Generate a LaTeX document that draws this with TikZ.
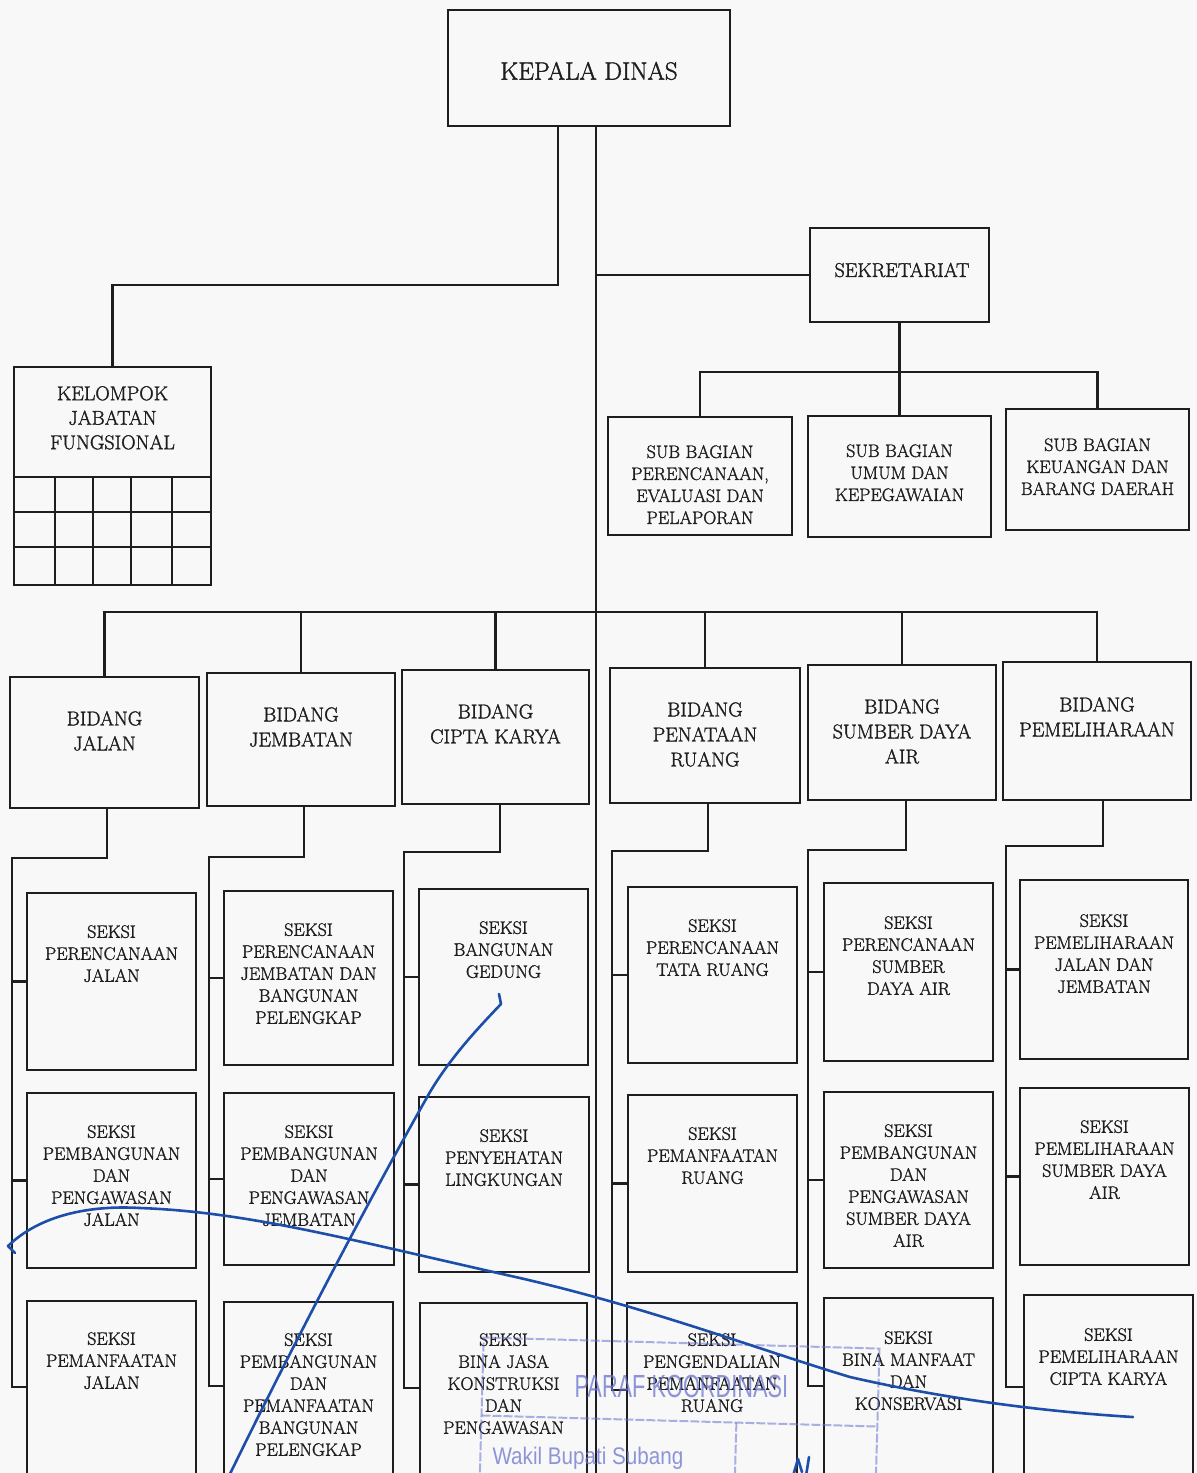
\documentclass[tikz,border=0pt]{standalone}
\usepackage{fontspec}
\newfontfamily\stampfont{Liberation Sans}
\newfontfamily\orgfont{Latin Modern Roman}[BoldFont={Latin Modern Roman}, BoldFeatures={FakeBold=1.5}]
\usetikzlibrary{fit}
\definecolor{ink}{RGB}{30,30,30}
\definecolor{paper}{RGB}{248,248,249}
\definecolor{pen}{RGB}{28,78,170}
\definecolor{stampblue}{RGB}{105,115,205}
\tikzset{
  box/.style={draw=ink, line width=2.2pt, inner sep=0pt, outer sep=0pt},
  link/.style={draw=ink, line width=2.2pt, line join=miter},
  txt/.style={align=center, inner sep=0pt, text=ink},
  seksi/.style={txt, font=\orgfont\bfseries\fontsize{18}{22}\selectfont},
  sub/.style={txt, font=\orgfont\bfseries\fontsize{18}{22}\selectfont},
  bid/.style={txt, font=\orgfont\bfseries\fontsize{20}{25}\selectfont},
  kel/.style={txt, font=\orgfont\bfseries\fontsize{20}{24.5}\selectfont},
  sig/.style={draw=pen, line width=2.6pt, line cap=round, line join=round},
  stampline/.style={draw=stampblue, opacity=0.55, line width=2pt, dash pattern=on 9pt off 2pt},
  stamptext/.style={inner sep=0pt, text=stampblue, text opacity=0.75}
}
% box with its caption hanging from the top edge
\newcommand\orgunit[8]{%
  \node[box, fit={(#2,#3) (#4,#5)}] (#1) {};
  \node[#6, anchor=north] (#1-t) at ([yshift=-#7pt]#1.north) {#8};
}
\begin{document}
\begin{tikzpicture}[x=1pt,y=-1pt]
\useasboundingbox (0,0) rectangle (1197,1473);
\fill[paper] (0,0) rectangle (1197,1473);
\clip (0,0) rectangle (1197,1473);

% ---- head and secretariat ----
\node[box, fit={(448,10) (730,126)}] (kd) {};
\node[txt, font=\orgfont\bfseries\fontsize{25}{30}\selectfont] (kd-t) at (589,71) {KEPALA DINAS};

\node[box, fit={(810,228) (989,322)}] (sek) {};
\node[txt, font=\orgfont\bfseries\fontsize{20}{24}\selectfont] (sek-t) at (902,270) {SEKRETARIAT};

\orgunit{sb1}{608}{417}{792}{535}{sub}{28}{SUB BAGIAN\\PERENCANAAN,\\EVALUASI DAN\\PELAPORAN}
\orgunit{sb2}{808}{416}{991}{537}{sub}{28}{SUB BAGIAN\\UMUM DAN\\KEPEGAWAIAN}
\orgunit{sb3}{1006}{409}{1189}{530}{sub}{29}{SUB BAGIAN\\KEUANGAN DAN\\BARANG DAERAH}

% ---- functional group with its grid ----
\node[box, fit={(14,367) (211,585)}] (kjf) {};
\node[kel, anchor=north] (kjf-t) at ([yshift=-19pt]kjf.north) {KELOMPOK\\JABATAN\\FUNGSIONAL};
\foreach \gy in {477,512,547} \draw[link] (14,\gy) -- (211,\gy);
\foreach \gx in {55,93,131,172} \draw[link] (\gx,477) -- (\gx,585);

% ---- divisions ----
\orgunit{b1}{10}{677}{199}{808}{bid}{34}{BIDANG\\JALAN}
\orgunit{b2}{207}{673}{395}{806}{bid}{34}{BIDANG\\JEMBATAN}
\orgunit{b3}{402}{670}{589}{804}{bid}{34}{BIDANG\\CIPTA KARYA}
\orgunit{b4}{610}{668}{800}{803}{bid}{34}{BIDANG\\PENATAAN\\RUANG}
\orgunit{b5}{808}{665}{996}{800}{bid}{34}{BIDANG\\SUMBER DAYA\\AIR}
\orgunit{b6}{1003}{662}{1191}{800}{bid}{35}{BIDANG\\PEMELIHARAAN}

% ---- sections ----
\orgunit{s11}{27}{893}{196}{1070}{seksi}{32}{SEKSI\\PERENCANAAN\\JALAN}
\orgunit{s12}{27}{1093}{196}{1268}{seksi}{32}{SEKSI\\PEMBANGUNAN\\DAN\\PENGAWASAN\\JALAN}
\orgunit{s13}{27}{1301}{196}{1495}{seksi}{31}{SEKSI\\PEMANFAATAN\\JALAN}

\orgunit{s21}{224}{891}{393}{1065}{seksi}{32}{SEKSI\\PERENCANAAN\\JEMBATAN DAN\\BANGUNAN\\PELENGKAP}
\orgunit{s22}{224}{1093}{394}{1265}{seksi}{32}{SEKSI\\PEMBANGUNAN\\DAN\\PENGAWASAN\\JEMBATAN}
\orgunit{s23}{224}{1302}{393}{1495}{seksi}{31}{SEKSI\\PEMBANGUNAN\\DAN\\PEMANFAATAN\\BANGUNAN\\PELENGKAP}

\orgunit{s31}{419}{889}{588}{1065}{seksi}{32}{SEKSI\\BANGUNAN\\GEDUNG}
\orgunit{s32}{419}{1097}{589}{1272}{seksi}{32}{SEKSI\\PENYEHATAN\\LINGKUNGAN}
\orgunit{s33}{420}{1303}{587}{1495}{seksi}{30}{SEKSI\\BINA JASA\\KONSTRUKSI\\DAN\\PENGAWASAN}

\orgunit{s41}{628}{887}{797}{1063}{seksi}{32}{SEKSI\\PERENCANAAN\\TATA RUANG}
\orgunit{s42}{628}{1095}{797}{1272}{seksi}{32}{SEKSI\\PEMANFAATAN\\RUANG}
\orgunit{s43}{627}{1303}{797}{1495}{seksi}{30}{SEKSI\\PENGENDALIAN\\PEMANFAATAN\\RUANG}

\orgunit{s51}{824}{883}{993}{1061}{seksi}{33}{SEKSI\\PERENCANAAN\\SUMBER\\DAYA AIR}
\orgunit{s52}{824}{1092}{993}{1268}{seksi}{32}{SEKSI\\PEMBANGUNAN\\DAN\\PENGAWASAN\\SUMBER DAYA\\AIR}
\orgunit{s53}{824}{1298}{993}{1495}{seksi}{33}{SEKSI\\BINA MANFAAT\\DAN\\KONSERVASI}

\orgunit{s61}{1020}{880}{1188}{1059}{seksi}{34}{SEKSI\\PEMELIHARAAN\\JALAN DAN\\JEMBATAN}
\orgunit{s62}{1020}{1088}{1189}{1265}{seksi}{32}{SEKSI\\PEMELIHARAAN\\SUMBER DAYA\\AIR}
\orgunit{s63}{1024}{1295}{1193}{1495}{seksi}{33}{SEKSI\\PEMELIHARAAN\\CIPTA KARYA}

% ---- connectors ----
\coordinate (tb) at (596,1480);
\coordinate (lk) at (558,285);
\coordinate (sbar) at (0,372);
\coordinate (bar) at (0,612);

\draw[link] (kd.south -| tb) -- (tb);
\draw[link] (kd.south -| lk) -- (lk) -| (kjf.north);
\draw[link] (sek.west -| tb) -- (sek.west);
\draw[link] (sek.south) -- (sek.south |- sbar);
\draw[link] (sb1.north) |- (sb3.north |- sbar) -- (sb3.north);
\draw[link] (sb2.north |- sbar) -- (sb2.north);

\draw[link] (b1.north) |- (b6.north |- bar) -- (b6.north);
\foreach \b in {b2,b3,b4,b5} \draw[link] (\b.north |- bar) -- (\b.north);

% section brackets: bend point k, bracket foot e
\foreach \c/\kx/\ky/\ex/\ey in {1/107/858/12/1387, 2/304/857/209/1386, 3/500/852/404/1388,
                               4/708/851/612/1390, 5/906/850/808/1386, 6/1103/846/1006/1387}{
  \coordinate (k\c) at (\kx,\ky);
  \coordinate (e\c) at (\ex,\ey);
  \draw[link] (b\c.south -| k\c) -- (k\c) -| (e\c) -- (e\c -| s\c3.west);
  \draw[link] (s\c1.west -| e\c) -- (s\c1.west);
  \draw[link] (s\c2.west -| e\c) -- (s\c2.west);
}

% ---- approval stamp ----
\begin{scope}[rotate around={-1.6:(680,1400)}]
  \draw[stampline] (482,1478) -- (482,1343) -- (878,1343) -- (878,1478);
  \draw[stampline] (482,1421) -- (878,1421);
  \draw[stampline] (737,1421) -- (737,1478);
  \node[stamptext, font=\stampfont\fontsize{32}{32}\selectfont] (stamp-t) at (681,1386) {\scalebox{0.68}[1]{PARAF KOORDINASI}};
  \node[stamptext, anchor=west, font=\stampfont\fontsize{24}{24}\selectfont] (stamp-w) at (494,1463) {\scalebox{0.86}[1]{Wakil Bupati Subang}};
\end{scope}

% ---- pen strokes ----
\draw[sig] (15,1253) -- (8,1246) .. controls (40,1215) and (90,1205) .. (140,1208)
  .. controls (250,1212) and (350,1240) .. (520,1278)
  .. controls (650,1308) and (760,1350) .. (850,1377)
  .. controls (950,1400) and (1050,1412) .. (1133,1417);
\draw[sig] (499,994) -- (501,1004) .. controls (482,1024) and (452,1055) .. (430,1092)
  .. controls (380,1180) and (300,1330) .. (228,1478);
\draw[sig] (793,1476) -- (798,1459) -- (802,1472);
\draw[sig] (806,1476) -- (809,1457);
\end{tikzpicture}
\end{document}
